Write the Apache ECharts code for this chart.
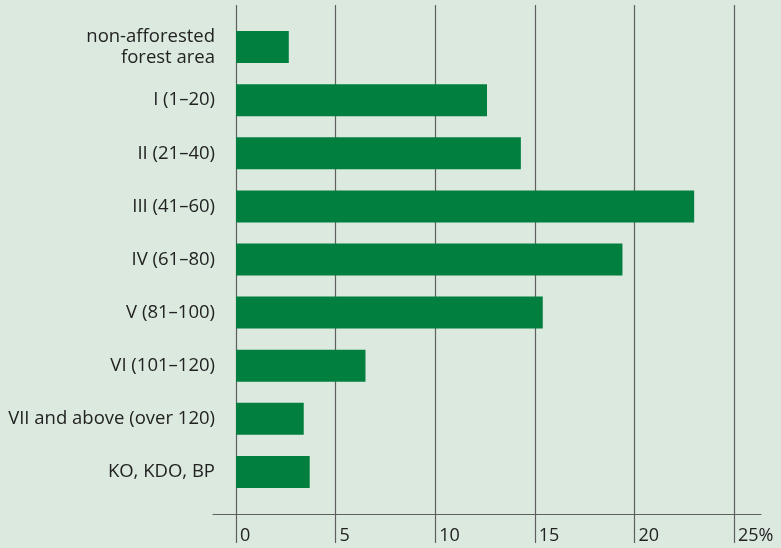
<!DOCTYPE html>
<html>
<head>
<meta charset="utf-8">
<style>
html,body{margin:0;padding:0;background:#dbe9df;}
#c{width:781px;height:548px;}
</style>
<script src="https://cdn.jsdelivr.net/npm/echarts@6/dist/echarts.min.js"></script>
</head>
<body>
<div id="c"></div>
<script>
const categories = ['non-afforested\nforest area','I (1–20)','II (21–40)','III (41–60)','IV (61–80)','V (81–100)','VI (101–120)','VII and above (over 120)','KO, KDO, BP'];
const values = [2.65, 12.6, 14.3, 23.0, 19.4, 15.4, 6.5, 3.4, 3.7];
const xTicks = [0, 5, 10, 15, 20, 25];
const xMax = 25, xStep = 5;

const lineColor = '#5f5f5f';
const textColor = '#222222';
const font = 'Open Sans';

const chart = echarts.init(document.getElementById('c'));
chart.setOption({
  backgroundColor: '#dbe9df',
  animation: false,
  grid: [
    {left: 236, right: 47, top: 5, bottom: 34},
    {left: 236, right: 47, top: 20.5, bottom: 49.5},
    {left: 213, right: 20, top: 5, bottom: 34}
  ],
  xAxis: [
    {
      gridIndex: 0, type: 'value', min: 0, max: xMax, interval: xStep,
      axisLine: {show: false},
      axisTick: {show: true, length: 29, lineStyle: {color: lineColor, width: 1.2}},
      splitLine: {show: true, lineStyle: {color: lineColor, width: 1.2}},
      axisLabel: {
        show: true, align: 'left', margin: 13, padding: [0,0,0,4],
        color: textColor, fontFamily: font, fontSize: 18,
        formatter: v => (xTicks.indexOf(v) === xTicks.length - 1 ? v + '%' : String(v))
      }
    },
    {gridIndex: 1, type: 'value', min: 0, max: xMax, show: false},
    {
      gridIndex: 2, type: 'value', min: 0, max: 1,
      axisLine: {show: true, lineStyle: {color: lineColor, width: 1.2}},
      axisTick: {show: false}, axisLabel: {show: false}, splitLine: {show: false}
    }
  ],
  yAxis: [
    {gridIndex: 0, type: 'value', show: false},
    {
      gridIndex: 1, type: 'category', data: categories, inverse: true,
      axisLine: {show: false}, axisTick: {show: false},
      axisLabel: {
        margin: 21, color: textColor, fontFamily: font, fontSize: 18.5,
        lineHeight: 21, align: 'right'
      }
    },
    {gridIndex: 2, type: 'value', show: false}
  ],
  series: [{
    type: 'bar', xAxisIndex: 1, yAxisIndex: 1,
    data: values, barWidth: 32,
    itemStyle: {color: '#007f3e'}
  }]
});
</script>
</body>
</html>
